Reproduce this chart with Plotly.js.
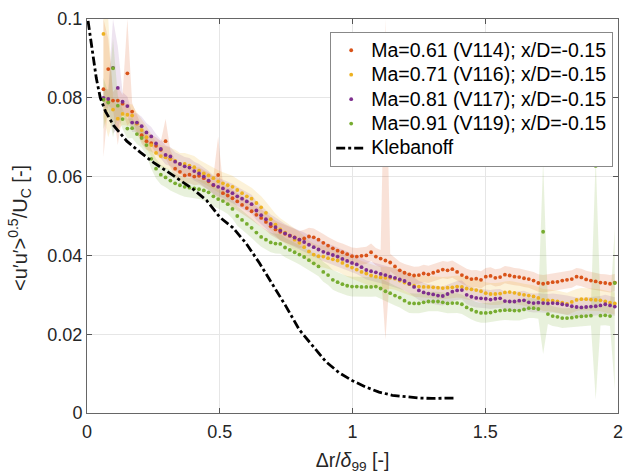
<!DOCTYPE html>
<html><head><meta charset="utf-8">
<script src="https://cdn.plot.ly/plotly-3.0.1.min.js"></script>
<style>html,body{margin:0;padding:0;background:#fff}#chart{width:624px;height:474px}</style>
</head><body><div id="chart"></div>
<script>
// shared radial positions (Δr/δ99)
const xPos = [0.062,0.080,0.098,0.116,0.134,0.152,0.170,0.188,0.206,0.224,
 0.242,0.260,0.278,0.296,0.314,0.332,0.350,0.368,0.386,0.404,
 0.422,0.440,0.458,0.476,0.494,0.512,0.530,0.548,0.566,0.584,
 0.602,0.620,0.638,0.656,0.674,0.692,0.710,0.728,0.746,0.764,
 0.782,0.800,0.818,0.836,0.854,0.872,0.890,0.908,0.926,0.944,
 0.962,0.980,0.998,1.016,1.034,1.052,1.070,1.088,1.106,1.124,
 1.142,1.160,1.178,1.196,1.214,1.232,1.250,1.268,1.286,1.304,
 1.322,1.340,1.358,1.376,1.394,1.412,1.430,1.448,1.466,1.484,
 1.502,1.520,1.538,1.556,1.574,1.592,1.610,1.628,1.646,1.664,
 1.682,1.700,1.718,1.736,1.754,1.772,1.790,1.808,1.826,1.844,
 1.862,1.880,1.898,1.916,1.934,1.952,1.970,1.988];

const ma061 = [0.0822,0.0873,0.0793,0.0793,0.0785,0.0862,0.0765,0.0735,0.0705,0.0690,
 0.0685,0.0678,0.0668,0.0690,0.0645,0.0620,0.0612,0.0603,0.0605,0.0600,
 0.0602,0.0596,0.0588,0.0578,0.0604,0.0558,0.0552,0.0545,0.0537,0.0528,
 0.0520,0.0512,0.0503,0.0495,0.0485,0.0474,0.0466,0.0460,0.0455,0.0450,
 0.0446,0.0440,0.0443,0.0448,0.0446,0.0440,0.0432,0.0425,0.0418,0.0412,
 0.0408,0.0403,0.0398,0.0397,0.0399,0.0400,0.0408,0.0397,0.0392,0.0387,
 0.0382,0.0372,0.0362,0.0356,0.0352,0.0349,0.0350,0.0354,0.0352,0.0356,
 0.0360,0.0364,0.0362,0.0365,0.0358,0.0350,0.0344,0.0340,0.0341,0.0338,
 0.0346,0.0348,0.0343,0.0345,0.0351,0.0349,0.0346,0.0345,0.0342,0.0340,
 0.0336,0.0330,0.0328,0.0330,0.0332,0.0333,0.0336,0.0338,0.0340,0.0346,
 0.0344,0.0339,0.0336,0.0334,0.0331,0.0330,0.0328,0.0331];

const ma071 = [0.0962,0.0790,0.0770,0.0747,0.0759,0.0757,0.0755,0.0735,0.0718,0.0700,
 0.0680,0.0660,0.0652,0.0649,0.0645,0.0640,0.0632,0.0632,0.0628,0.0624,
 0.0615,0.0608,0.0603,0.0596,0.0588,0.0583,0.0578,0.0574,0.0566,0.0558,
 0.0550,0.0544,0.0533,0.0522,0.0508,0.0492,0.0478,0.0466,0.0458,0.0450,
 0.0440,0.0432,0.0421,0.0410,0.0402,0.0398,0.0397,0.0393,0.0390,0.0387,
 0.0381,0.0374,0.0369,0.0364,0.0358,0.0354,0.0349,0.0346,0.0344,0.0343,
 0.0343,0.0341,0.0336,0.0331,0.0327,0.0323,0.0321,0.0320,0.0320,0.0319,
 0.0318,0.0317,0.0318,0.0319,0.0321,0.0320,0.0316,0.0314,0.0312,0.0309,
 0.0304,0.0302,0.0302,0.0303,0.0306,0.0307,0.0305,0.0302,0.0300,0.0298,
 0.0296,0.0292,0.0287,0.0286,0.0285,0.0283,0.0280,0.0277,0.0282,0.0287,
 0.0289,0.0289,0.0288,0.0287,0.0286,0.0283,0.0280,0.0278];

const ma081 = [0.0800,0.0797,0.0876,0.0825,0.0790,0.0779,0.0737,0.0737,0.0728,0.0712,
 0.0702,0.0684,0.0670,0.0655,0.0651,0.0638,0.0632,0.0626,0.0623,0.0614,
 0.0608,0.0600,0.0590,0.0579,0.0574,0.0570,0.0563,0.0558,0.0550,0.0544,
 0.0537,0.0530,0.0514,0.0502,0.0492,0.0480,0.0472,0.0463,0.0456,0.0450,
 0.0445,0.0440,0.0434,0.0427,0.0421,0.0415,0.0409,0.0405,0.0401,0.0397,
 0.0391,0.0386,0.0381,0.0377,0.0370,0.0363,0.0360,0.0357,0.0353,0.0350,
 0.0346,0.0343,0.0339,0.0335,0.0328,0.0320,0.0311,0.0306,0.0303,0.0301,
 0.0298,0.0297,0.0302,0.0308,0.0311,0.0312,0.0300,0.0295,0.0292,0.0291,
 0.0290,0.0288,0.0290,0.0291,0.0284,0.0283,0.0283,0.0285,0.0286,0.0281,
 0.0279,0.0280,0.0279,0.0278,0.0279,0.0278,0.0276,0.0274,0.0271,0.0269,
 0.0268,0.0269,0.0270,0.0271,0.0273,0.0276,0.0273,0.0270];

const ma091 = [0.0795,0.0788,0.0875,0.0780,0.0746,0.0722,0.0723,0.0708,0.0698,0.0680,
 0.0645,0.0620,0.0605,0.0598,0.0590,0.0583,0.0578,0.0574,0.0572,0.0570,
 0.0568,0.0565,0.0560,0.0550,0.0543,0.0538,0.0530,0.0518,0.0500,0.0490,
 0.0480,0.0470,0.0458,0.0447,0.0440,0.0433,0.0430,0.0429,0.0420,0.0414,
 0.0408,0.0402,0.0396,0.0388,0.0380,0.0372,0.0358,0.0350,0.0338,0.0332,
 0.0327,0.0323,0.0321,0.0321,0.0320,0.0320,0.0320,0.0321,0.0316,0.0309,
 0.0304,0.0298,0.0293,0.0285,0.0279,0.0278,0.0278,0.0281,0.0283,0.0283,
 0.0283,0.0281,0.0278,0.0279,0.0279,0.0276,0.0268,0.0262,0.0257,0.0254,
 0.0254,0.0255,0.0258,0.0260,0.0261,0.0261,0.0260,0.0260,0.0263,0.0266,
 0.0266,0.0264,0.0460,0.0251,0.0246,0.0244,0.0241,0.0241,0.0242,0.0244,
 0.0245,0.0246,0.0247,0.0627,0.0247,0.0248,0.0246,0.0330];

// typical half-width of the shaded uncertainty band per series
const bandHalf = [0.0022, 0.0028, 0.0024, 0.0025];
// band spikes: [x, lower, upper]
const spikes061 = [[0.062,0.065,0.1],[0.080,0.078,0.095],[0.116,0.068,0.083],[0.152,0.073,0.1],[0.296,0.0645,0.0746],[0.494,0.0545,0.0702],[1.124,0.0186,0.1]];
const spikes071 = [[0.062,0.075,0.1],[0.080,0.070,0.1]];
const spikes081 = [[0.098,0.071,0.1],[0.116,0.072,0.093]];
const spikes091 = [[0.062,0.072,0.085],[0.098,0.070,0.095],[1.718,0.015,0.064],[1.916,0.0034,0.065],[1.988,0.006,0.047]];

const klebX = [0.004,0.012,0.023,0.035,0.05,0.07,0.1,0.15,0.2,0.25,0.3,0.35,0.4,0.45,0.5,0.55,0.6,0.65,0.7,0.75,0.8,0.85,0.9,0.95,1.0,1.05,1.1,1.15,1.2,1.25,1.3,1.35,1.39];
const klebY = [0.0995,0.0960,0.0910,0.0850,0.0800,0.0765,0.0730,0.0690,0.0662,0.0636,0.0614,0.0592,0.0568,0.0540,0.0497,0.0470,0.0430,0.0380,0.0325,0.0270,0.0211,0.0170,0.0130,0.0102,0.0082,0.0066,0.0053,0.0045,0.0041,0.0038,0.0037,0.0037,0.0038];

const seriesNames = ['Ma=0.61 (V114); x/D=-0.15','Ma=0.71 (V116); x/D=-0.15','Ma=0.81 (V117); x/D=-0.15','Ma=0.91 (V119); x/D=-0.15'];
const klebName = 'Klebanoff';
const xTickVals = [0,0.5,1,1.5,2];
const xTickText = ['0','0.5','1','1.5','2'];
const yTickVals = [0,0.02,0.04,0.06,0.08,0.1];
const yTickText = ['0','0.02','0.04','0.06','0.08','0.1'];
const yTitle = '&lt;u′u′&gt;<sup>0.5</sup>/U<sub>C</sub> [-]';
const xTitle = 'Δr/<i>δ</i><sub>99</sub> [-]';

const colors = ['#D95319','#EDB120','#7E2F8E','#77AC30'];
const fills = ['rgba(217,83,25,0.17)','rgba(237,177,32,0.17)','rgba(126,47,142,0.13)','rgba(119,172,48,0.17)'];
const allY = [ma061, ma071, ma081, ma091];
const allSpikes = [spikes061, spikes071, spikes081, spikes091];
const big = s => '<span style="font-size:19.5px">' + s + '</span>';

const traces = [];
allY.forEach((ys, k) => {
  const hi = [], lo = [];
  ys.forEach((v, i) => {
    let l = v - bandHalf[k], h = v + bandHalf[k];
    allSpikes[k].forEach(s => { if (Math.abs(s[0] - xPos[i]) < 1e-6) { l = s[1]; h = s[2]; } });
    hi.push(h); lo.push(l);
  });
  traces.push({
    x: xPos.concat(xPos.slice().reverse()),
    y: hi.concat(lo.slice().reverse()),
    type: 'scatter', mode: 'lines', fill: 'toself', fillcolor: fills[k],
    line: {width: 0, color: 'rgba(0,0,0,0)'}, hoverinfo: 'skip', showlegend: false
  });
});
allY.forEach((ys, k) => {
  traces.push({
    x: xPos, y: ys, type: 'scatter', mode: 'markers', name: big(seriesNames[k]),
    marker: {size: 3.8, color: colors[k]}
  });
});
traces.push({
  x: klebX, y: klebY, type: 'scatter', mode: 'lines', name: big(klebName),
  line: {color: '#000', width: 2.8, dash: 'dashdot'}
});

const font = 'Liberation Sans, Arial, Helvetica, sans-serif';
const axisCommon = {
  showgrid: true, gridcolor: '#e6e6e6', gridwidth: 1,
  showline: true, linecolor: '#666', linewidth: 1, mirror: 'ticks',
  ticks: 'inside', ticklen: 5, tickcolor: '#555', zeroline: false,
  tickfont: {family: font, size: 18, color: '#262626'}, automargin: false
};
const layout = {
  width: 624, height: 474,
  margin: {l: 87, r: 6, t: 19, b: 61},
  paper_bgcolor: '#fff', plot_bgcolor: '#fff',
  font: {family: font, color: '#262626'},
  xaxis: Object.assign({}, axisCommon, {
    range: [0, 2], tickmode: 'array', tickvals: xTickVals, ticktext: xTickText, ticklabelstandoff: 2,
    title: {text: xTitle, font: {family: font, size: 19.5, color: '#262626'}, standoff: 13}
  }),
  yaxis: Object.assign({}, axisCommon, {
    range: [0, 0.1], tickmode: 'array', tickvals: yTickVals, ticktext: yTickText
  }),
  annotations: [{
    text: yTitle, xref: 'paper', yref: 'paper', x: -0.126, y: 0.47,
    xanchor: 'center', yanchor: 'middle', textangle: -90, showarrow: false,
    font: {family: font, size: 20, color: '#262626'}
  }],
  legend: {
    x: 0.458, y: 0.967, xanchor: 'left', yanchor: 'top',
    bgcolor: '#fff', bordercolor: '#888', borderwidth: 1,
    font: {family: font, size: 16.5, color: '#000'}, tracegroupgap: 0
  },
  showlegend: true
};
Plotly.newPlot('chart', traces, layout, {displayModeBar: false, staticPlot: true});
</script></body></html>
